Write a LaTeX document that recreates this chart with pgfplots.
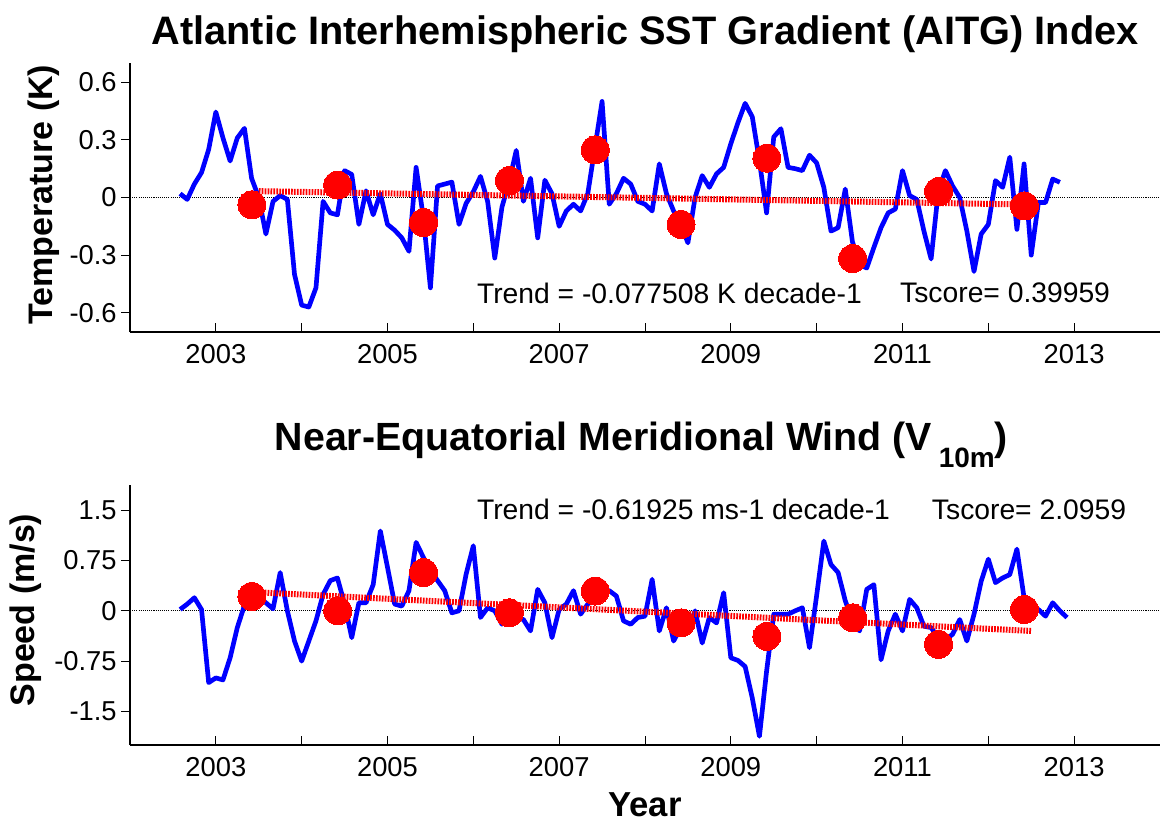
\documentclass[border=0pt]{standalone}
\usepackage{fontspec}
\setmainfont{Liberation Sans}
\usepackage{pgfplots}
\usepackage{pgfplotstable}
\pgfplotsset{compat=1.18}

\definecolor{mblue}{RGB}{0,0,255}
\definecolor{mred}{RGB}{255,0,0}

% Monthly AITG index (K), starting Aug 2002
\pgfplotstableread{
v
0.02
-0.01
0.07
0.13
0.25
0.445
0.31
0.19
0.31
0.36
0.10
0.00
-0.19
-0.02
0.01
-0.01
-0.40
-0.56
-0.57
-0.47
-0.02
-0.08
-0.09
0.14
0.12
-0.14
0.035
-0.09
0.02
-0.14
-0.17
-0.21
-0.28
0.157
-0.10
-0.47
0.06
0.07
0.08
-0.14
-0.03
0.03
0.11
-0.02
-0.315
-0.05
0.08
0.245
-0.02
0.10
-0.21
0.09
0.02
-0.15
-0.07
-0.035
-0.07
0.02
0.26
0.50
-0.035
0.02
0.10
0.07
-0.02
-0.035
-0.07
0.175
0.02
-0.07
-0.14
-0.236
0.0
0.114
0.053
0.123
0.157
0.28
0.39
0.49
0.42
0.19
-0.08
0.315
0.358
0.157
0.15
0.14
0.22
0.18
0.053
-0.175
-0.157
0.044
-0.23
-0.35
-0.367
-0.26
-0.157
-0.08
-0.06
0.14
0.01
-0.01
-0.175
-0.32
0.03
0.14
0.06
0.0
-0.175
-0.385
-0.19
-0.14
0.088
0.053
0.21
-0.166
0.175
-0.30
-0.026
-0.026
0.096
0.079
}\aitg

% Monthly near-equatorial meridional wind (m/s), starting Aug 2002
\pgfplotstableread{
v
0.02
0.10
0.195
0.02
-1.07
-1.00
-1.03
-0.70
-0.25
0.08
0.22
0.20
0.12
0.03
0.57
0.00
-0.45
-0.75
-0.45
-0.15
0.245
0.45
0.49
0.10
-0.40
0.12
0.12
0.39
1.19
0.65
0.10
0.07
0.30
1.02
0.80
0.60
0.45
0.30
-0.03
0.00
0.55
0.97
-0.10
0.045
0.00
-0.20
-0.03
-0.10
-0.13
-0.30
0.32
0.12
-0.40
0.02
0.10
0.30
-0.05
0.10
0.195
0.30
0.30
0.22
-0.15
-0.20
-0.10
-0.08
0.47
-0.30
0.045
-0.45
-0.25
-0.30
0.00
-0.48
-0.10
-0.18
0.27
-0.70
-0.74
-0.83
-1.30
-1.87
-0.90
-0.05
-0.05
-0.05
0.00
0.045
-0.55
0.23
1.04
0.69
0.57
0.15
-0.15
-0.30
0.32
0.39
-0.73
-0.30
-0.05
-0.30
0.17
0.045
-0.23
-0.25
-0.40
-0.43
-0.35
-0.13
-0.45
-0.05
0.44
0.77
0.42
0.49
0.54
0.92
0.195
0.045
0.02
-0.08
0.12
0.00
-0.10
}\vwind

% Annual means
\pgfplotstableread{
t a
2003.42 -0.038
2004.42 0.065
2005.42 -0.131
2006.42 0.088
2007.42 0.248
2008.42 -0.140
2009.42 0.205
2010.42 -0.318
2011.42 0.031
2012.42 -0.044
}\aitgyr

\pgfplotstableread{
t a
2003.42 0.215
2004.42 0.000
2005.42 0.570
2006.42 -0.030
2007.42 0.295
2008.42 -0.180
2009.42 -0.380
2010.42 -0.105
2011.42 -0.500
2012.42 0.020
}\vwindyr

\pgfplotsset{
  panel/.style={
    scale only axis,
    width=772.5pt,
    xmin=2002, xmax=2014,
    axis x line=bottom, axis y line=left,
    axis line style={black, line width=0.8pt, -},
    xtick={2003,2004,...,2013},
    xticklabels={2003,,2005,,2007,,2009,,2011,,2013},
    xtick align=inside, ytick align=outside,
    major tick length=6.5pt,
    tick style={black, line width=0.6pt},
    tick label style={font=\fontsize{20.5}{24}\selectfont},
    xticklabel style={yshift=-6pt},
    clip=false,
  },
  zeroline/.style={black, line width=0.6pt, dash pattern=on 0.8pt off 0.8pt},
  series/.style={mblue, line width=3.5pt, line join=round},
  trend/.style={mred, line width=4.5pt, dash pattern=on 1.3pt off 0.9pt},
  yearly/.style={mred, only marks, mark=*, mark size=10.5pt,
    mark options={draw=mred, fill=mred, line width=0pt}},
}
\tikzset{note/.style={anchor=west, inner sep=0pt, font=\fontsize{21.2}{25}\selectfont}}

\begin{document}
\begin{tikzpicture}

% upper panel: SST gradient index
\begin{axis}[panel,
  at={(97.5pt,-249pt)}, anchor=south west, height=201.75pt,
  ymin=-0.7, ymax=0.7,
  ytick={-0.6,-0.3,0,0.3,0.6},
  yticklabels={-0.6,-0.3,0,0.3,0.6},
]
\addplot[zeroline] coordinates {(2002,0) (2014,0)};
\addplot[series] table[x expr=2002.5833+\coordindex/12, y=v] {\aitg};
\addplot[trend] coordinates {(2003.5,0.033) (2012.5,-0.037)};
\addplot[yearly] table[x=t, y=a] {\aitgyr};
\node[note] at (axis cs:2006.04,-0.497) {Trend = -0.077508 K decade-1};
\node[note] at (axis cs:2010.97,-0.497) {Tscore= 0.39959};
\end{axis}

% lower panel: meridional wind
\begin{axis}[panel,
  at={(97.5pt,-558.75pt)}, anchor=south west, height=195pt,
  ymin=-2, ymax=1.875,
  ytick={-1.5,-0.75,0,0.75,1.5},
  yticklabels={-1.5,-0.75,0,0.75,1.5},
]
\addplot[zeroline] coordinates {(2002,0) (2014,0)};
\addplot[series] table[x expr=2002.5833+\coordindex/12, y=v] {\vwind};
\addplot[trend] coordinates {(2003.5,0.275) (2012.5,-0.30)};
\addplot[yearly] table[x=t, y=a] {\vwindyr};
\node[note] at (axis cs:2006.04,1.505) {Trend = -0.61925 ms-1 decade-1};
\node[note] at (axis cs:2011.34,1.505) {Tscore= 2.0959};
\end{axis}

% titles and axis labels
\node[anchor=base, font=\bfseries\fontsize{29.8}{36}\selectfont] at (483.75pt,-33pt)
  {Atlantic Interhemispheric SST Gradient (AITG) Index};
\node[anchor=base, font=\bfseries\fontsize{29.5}{36}\selectfont] at (481pt,-337.5pt)
  {Near-Equatorial Meridional Wind (V\,\raisebox{-0.45em}{\fontsize{21}{24}\selectfont 10m})};
\node[rotate=90, font=\bfseries\fontsize{25.5}{30}\selectfont] at (33pt,-146pt) {Temperature (K)};
\node[rotate=90, font=\bfseries\fontsize{25.5}{30}\selectfont] at (19.5pt,-457.5pt) {Speed (m/s)};
\node[font=\bfseries\fontsize{26}{30}\selectfont] at (483.75pt,-603.75pt) {Year};

\pgfresetboundingbox
\path[use as bounding box] (0,0) rectangle (870pt,-616.5pt);
\end{tikzpicture}
\end{document}
